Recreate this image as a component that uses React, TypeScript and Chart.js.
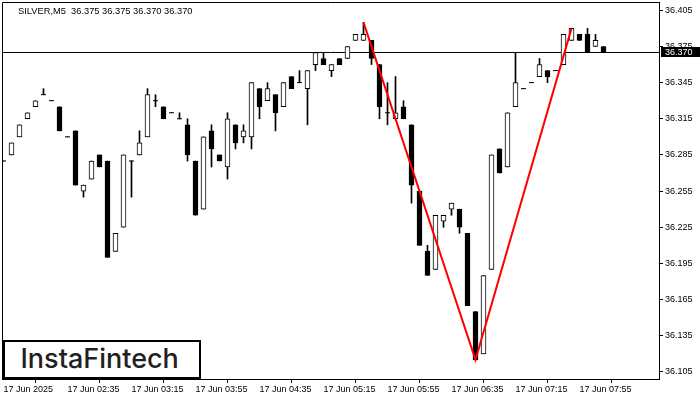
import React, { useEffect, useRef } from "react";
import { Chart, registerables } from "chart.js";

Chart.register(...registerables);

const symbol = "SILVER,M5";

const opens = [
  36.28, 36.285, 36.3, 36.315, 36.325, 36.335, 36.33, 36.325, 36.3, 36.305,
  36.255, 36.265, 36.285, 36.28, 36.205, 36.225, 36.28, 36.285, 36.3, 36.33,
  36.325, 36.32, 36.315, 36.31, 36.28, 36.24, 36.305, 36.285, 36.275, 36.31,
  36.3, 36.3, 36.34, 36.33, 36.335, 36.325, 36.35, 36.345, 36.34, 36.36,
  36.365, 36.355, 36.365, 36.365, 36.38, 36.38, 36.38, 36.36, 36.32, 36.315,
  36.325, 36.31, 36.255, 36.205, 36.19, 36.23, 36.24, 36.24, 36.22, 36.155,
  36.12, 36.19, 36.29, 36.275, 36.325, 36.34, 36.345, 36.35, 36.355, 36.355,
  36.36, 36.38, 36.385, 36.385, 36.375, 36.375,
];
const highs = [
  36.28, 36.295, 36.31, 36.32, 36.33, 36.34, 36.33, 36.325, 36.3, 36.305,
  36.26, 36.28, 36.285, 36.28, 36.22, 36.285, 36.28, 36.305, 36.34, 36.335,
  36.325, 36.32, 36.32, 36.315, 36.28, 36.3, 36.31, 36.285, 36.32, 36.31,
  36.31, 36.345, 36.34, 36.345, 36.335, 36.345, 36.35, 36.355, 36.355, 36.37,
  36.37, 36.36, 36.365, 36.375, 36.385, 36.395, 36.38, 36.36, 36.345, 36.35,
  36.33, 36.31, 36.255, 36.21, 36.235, 36.235, 36.245, 36.24, 36.22, 36.155,
  36.185, 36.285, 36.29, 36.32, 36.37, 36.34, 36.345, 36.365, 36.355, 36.355,
  36.385, 36.39, 36.385, 36.39, 36.385, 36.375,
];
const lows = [
  36.28, 36.285, 36.3, 36.315, 36.325, 36.335, 36.33, 36.305, 36.3, 36.26,
  36.25, 36.265, 36.275, 36.2, 36.205, 36.225, 36.25, 36.285, 36.3, 36.325,
  36.315, 36.32, 36.315, 36.28, 36.235, 36.24, 36.275, 36.28, 36.265, 36.29,
  36.295, 36.29, 36.315, 36.33, 36.305, 36.325, 36.34, 36.345, 36.31, 36.355,
  36.36, 36.35, 36.36, 36.365, 36.38, 36.38, 36.36, 36.315, 36.31, 36.315,
  36.315, 36.245, 36.21, 36.185, 36.19, 36.225, 36.235, 36.22, 36.16, 36.115,
  36.12, 36.19, 36.27, 36.275, 36.325, 36.34, 36.345, 36.35, 36.345, 36.355,
  36.36, 36.38, 36.38, 36.37, 36.375, 36.37,
];
const closes = [
  36.28, 36.295, 36.31, 36.32, 36.33, 36.335, 36.33, 36.305, 36.3, 36.26,
  36.26, 36.28, 36.275, 36.2, 36.22, 36.285, 36.28, 36.295, 36.335, 36.33,
  36.315, 36.32, 36.315, 36.285, 36.235, 36.3, 36.29, 36.28, 36.315, 36.295,
  36.305, 36.345, 36.325, 36.34, 36.32, 36.345, 36.34, 36.345, 36.355, 36.37,
  36.36, 36.36, 36.36, 36.375, 36.385, 36.385, 36.365, 36.325, 36.32, 36.32,
  36.315, 36.26, 36.21, 36.185, 36.235, 36.235, 36.245, 36.225, 36.16, 36.115,
  36.185, 36.285, 36.27, 36.32, 36.345, 36.34, 36.345, 36.36, 36.35, 36.355,
  36.385, 36.39, 36.38, 36.37, 36.38, 36.37,
];

const xTickIndex = [0, 8, 16, 24, 32, 40, 48, 56, 64, 72];
const xTickLabels = [
  "17 Jun 2025", "17 Jun 02:35", "17 Jun 03:15", "17 Jun 03:55", "17 Jun 04:35",
  "17 Jun 05:15", "17 Jun 05:55", "17 Jun 06:35", "17 Jun 07:15", "17 Jun 07:55",
];
const yTicks = [36.105, 36.135, 36.165, 36.195, 36.225, 36.255, 36.285, 36.315, 36.345, 36.375, 36.405];

const patternIdx = [45, 59, 71];
const patternVals = [36.395, 36.115, 36.39];
const bidPrice = 36.37;

const X_MIN = -0.1875;
const X_MAX = 81.9375;
const Y_MIN = 36.0991;
const Y_MAX = 36.4119;

export default function App() {
  const ref = useRef<HTMLCanvasElement | null>(null);

  useEffect(() => {
    if (!ref.current) return;
    const n = opens.length;
    const idx = Array.from({ length: n }, (_, i) => i);
    const bodyIdx = idx.filter((i) => opens[i] !== closes[i]);
    const dojiIdx = idx.filter((i) => opens[i] === closes[i]);

    const framePlugin = {
      id: "frame",
      afterDraw(chart: any) {
        const { ctx, chartArea } = chart;
        ctx.save();
        ctx.strokeStyle = "#000";
        ctx.lineWidth = 1;
        ctx.beginPath();
        ctx.moveTo(chartArea.left + 0.5, chartArea.bottom);
        ctx.lineTo(chartArea.left + 0.5, chartArea.top + 0.5);
        ctx.lineTo(chartArea.right, chartArea.top + 0.5);
        ctx.stroke();
        // bid price label on the price scale
        const y = chart.scales.y.getPixelForValue(bidPrice);
        ctx.fillStyle = "#000";
        ctx.fillRect(chartArea.right + 2, Math.round(y) - 5, 700 - chartArea.right - 2, 10);
        ctx.fillStyle = "#fff";
        ctx.font = "9px 'Liberation Sans', Arial, sans-serif";
        ctx.textBaseline = "middle";
        ctx.textAlign = "left";
        ctx.fillText(bidPrice.toFixed(3), chartArea.right + 6, Math.round(y) + 0.5);
        ctx.restore();
      },
    };

    const chart = new Chart(ref.current, {
      type: "bar",
      data: {
        datasets: [
          {
            type: "line",
            data: [
              { x: X_MIN, y: bidPrice },
              { x: X_MAX, y: bidPrice },
            ],
            borderColor: "#000",
            borderWidth: 1,
            pointRadius: 0,
            order: 4,
          } as any,
          {
            type: "bar",
            data: idx.map((i) => ({ x: i, y: [lows[i], highs[i]] })),
            backgroundColor: "#000",
            borderWidth: 0,
            barThickness: 1,
            grouped: false,
            order: 3,
          } as any,
          {
            type: "bar",
            data: bodyIdx.map((i) => ({ x: i, y: [opens[i], closes[i]] })),
            backgroundColor: bodyIdx.map((i) => (closes[i] > opens[i] ? "#fff" : "#000")),
            borderColor: "#000",
            borderWidth: 1,
            borderSkipped: false,
            barThickness: 5,
            grouped: false,
            order: 2,
          } as any,
          {
            type: "line",
            data: dojiIdx.map((i) => ({ x: i, y: closes[i] })),
            showLine: false,
            pointStyle: "line",
            pointRadius: 2.5,
            pointBorderWidth: 1,
            borderWidth: 1,
            pointBorderColor: "#000",
            borderColor: "#000",
            order: 1,
          } as any,
          {
            type: "line",
            data: patternIdx.map((x, k) => ({ x, y: patternVals[k] })),
            borderColor: "#ff0000",
            borderWidth: 2,
            pointRadius: 0,
            order: 0,
          } as any,
        ],
      },
      options: {
        animation: false,
        responsive: false,
        events: [],
        layout: { autoPadding: false, padding: { left: 2, top: 2, right: 0, bottom: 0 } },
        plugins: { legend: { display: false }, tooltip: { enabled: false } },
        scales: {
          x: {
            type: "linear",
            min: X_MIN,
            max: X_MAX,
            offset: false,
            afterBuildTicks: (s: any) => {
              s.ticks = xTickIndex.map((v) => ({ value: v }));
            },
            afterFit: (s: any) => {
              s.height = 21;
              s.paddingLeft = 0;
              s.paddingRight = 0;
            },
            ticks: {
              autoSkip: false,
              maxRotation: 0,
              align: "start",
              padding: 1,
              color: "#000",
              font: { family: "'Liberation Sans', Arial, sans-serif", size: 9 },
              callback: (v: any) => {
                const k = xTickIndex.indexOf(v);
                return k >= 0 ? xTickLabels[k] : "";
              },
            },
            grid: { drawOnChartArea: false, drawTicks: true, tickLength: 4, color: "#000" },
            border: { display: true, color: "#000", width: 1 },
          },
          y: {
            type: "linear",
            position: "right",
            min: Y_MIN,
            max: Y_MAX,
            afterBuildTicks: (s: any) => {
              s.ticks = yTicks.map((v) => ({ value: v }));
            },
            afterFit: (s: any) => {
              s.width = 41;
              s.paddingTop = 0;
              s.paddingBottom = 0;
            },
            ticks: {
              color: "#000",
              padding: 2,
              font: { family: "'Liberation Sans', Arial, sans-serif", size: 9 },
              callback: (v: any) => Number(v).toFixed(3),
            },
            grid: { drawOnChartArea: false, drawTicks: true, tickLength: 4, color: "#000" },
            border: { display: true, color: "#000", width: 1 },
          },
        },
      } as any,
      plugins: [framePlugin],
    });
    return () => chart.destroy();
  }, []);

  const n = opens.length - 1;
  const header = `${symbol}  ${opens[n].toFixed(3)} ${highs[n].toFixed(3)} ${lows[n].toFixed(3)} ${closes[n].toFixed(3)}`;

  return (
    <div style={{ position: "fixed", left: 0, top: 0, width: 700, height: 400, background: "#fff", overflow: "hidden" }}>
      <canvas ref={ref} width={700} height={400} style={{ display: "block" }} />
      <div
        style={{
          position: "absolute",
          left: 18,
          top: 6,
          fontFamily: "'Liberation Sans', Arial, sans-serif",
          fontSize: 9.3,
          lineHeight: "10px",
          whiteSpace: "pre",
          color: "#000",
        }}
      >
        {header}
      </div>
      <div
        style={{
          position: "absolute",
          left: 3,
          top: 340,
          width: 198,
          height: 39,
          boxSizing: "border-box",
          border: "2px solid #000",
          background: "#fff",
        }}
      />
      <div
        style={{
          position: "absolute",
          left: 20.5,
          top: 345,
          fontFamily: "Inter, 'Open Sans', sans-serif",
          fontWeight: 500,
          fontSize: 27,
          lineHeight: "27.5px",
          color: "#231f20",
          whiteSpace: "pre",
        }}
      >
        InstaFintech
      </div>
    </div>
  );
}
